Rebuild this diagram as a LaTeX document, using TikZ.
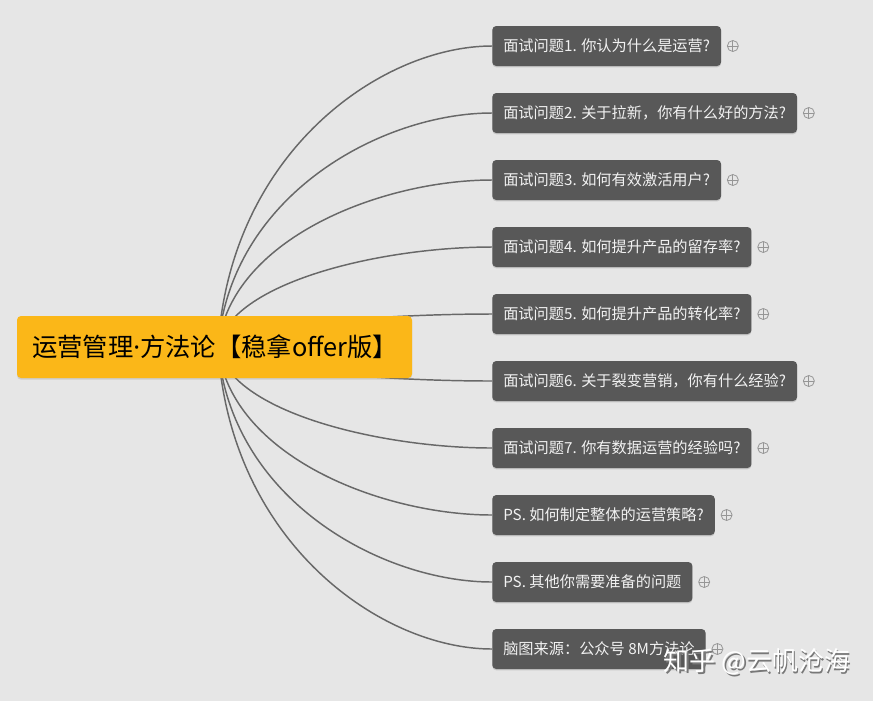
\documentclass[tikz,border=0pt]{standalone}
\usepackage{fontspec}
\setmainfont{Noto Sans CJK SC}
\newfontfamily\latinfont{Noto Sans}
\usetikzlibrary{calc,shadows}

\definecolor{bgcol}{RGB}{230,230,230}
\definecolor{rootfill}{RGB}{251,183,24}
\definecolor{topicfill}{RGB}{88,88,88}
\definecolor{topictext}{RGB}{242,242,242}
\definecolor{linecol}{RGB}{104,104,104}
\definecolor{iconcol}{RGB}{150,150,150}
\definecolor{wmshadow}{RGB}{120,120,120}

\pgfdeclarelayer{bg}
\pgfdeclarelayer{edges}
\pgfsetlayers{bg,edges,main}

\newcommand{\wmshadowed}[1]{\rlap{\kern1.2pt\raisebox{-1.2pt}{\textcolor{wmshadow}{#1}}}#1}
\newcommand{\middot}{{\latinfont ·}}

\tikzset{every picture/.style={line width=0.75pt}}
\tikzset{
  roottopic/.style={fill=rootfill, rounded corners=3pt, text=black,
    font=\fontsize{19}{21}\selectfont, text width=273.75pt, align=left,
    inner xsep=11.25pt, minimum height=46.5pt,
    drop shadow={shadow xshift=0pt, shadow yshift=-1.2pt, opacity=0.25}},
  subtopic/.style={anchor=west, fill=topicfill, rounded corners=3pt, text=topictext,
    font=\fontsize{11.4}{13}\selectfont, inner xsep=8.25pt, minimum height=30pt,
    drop shadow={shadow xshift=0pt, shadow yshift=-1pt, opacity=0.3}},
  branch/.style={draw=linecol, line width=1.1pt},
  addicon/.style={circle, draw=iconcol, line width=0.6pt, minimum size=8.25pt, inner sep=0pt,
    path picture={\draw[iconcol, line width=0.6pt]
      (path picture bounding box.north) -- (path picture bounding box.south)
      (path picture bounding box.west) -- (path picture bounding box.east);}},
  watermark/.style={text=white, font=\fontsize{19.5}{22}\selectfont, inner sep=0pt}
}

\begin{document}
\begin{tikzpicture}[x=0.75pt,y=0.75pt,yscale=-1,xscale=1]
	%canvas
	\begin{pgfonlayer}{bg}
	\fill[bgcol] (0,0) rectangle (873,701);
	\end{pgfonlayer}
	\useasboundingbox (0,0) rectangle (873,701);

	%Central topic
	\node[roottopic] (root) at (214.5,347) {运营管理\middot 方法论【稳拿offer版】};
	\coordinate (hub) at (218,347);

	%Main topics
	\node[subtopic] (c1) at (492,46) {面试问题1. 你认为什么是运营?};
	\node[subtopic] (c2) at (492,113) {面试问题2. 关于拉新，你有什么好的方法?};
	\node[subtopic] (c3) at (492,180) {面试问题3. 如何有效激活用户?};
	\node[subtopic] (c4) at (492,247) {面试问题4. 如何提升产品的留存率?};
	\node[subtopic] (c5) at (492,314) {面试问题5. 如何提升产品的转化率?};
	\node[subtopic] (c6) at (492,381) {面试问题6. 关于裂变营销，你有什么经验?};
	\node[subtopic] (c7) at (492,448) {面试问题7. 你有数据运营的经验吗?};
	\node[subtopic] (c8) at (492,515) {PS. 如何制定整体的运营策略?};
	\node[subtopic] (c9) at (492,582) {PS. 其他你需要准备的问题};
	\node[subtopic] (c10) at (492,649) {脑图来源：公众号 8M方法论};

	%expand icons
	\foreach \i in {1,...,10}
		\node[addicon] (p\i) at ($(c\i.east)+(11.5,0)$) {};

	%Curved branches
	\begin{pgfonlayer}{edges}
	\foreach \i in {1,...,10}
		\draw[branch] (hub) .. controls ($(hub)!0.65!(hub |- c\i.west)+(12,0)$) and ($(c\i.west)+(-110,0)$) .. (c\i.west);
	\end{pgfonlayer}

	%Watermark
	\node[watermark] (wm) at (757,663) {\wmshadowed{知乎 @云帆沧海}};

\end{tikzpicture}
\end{document}
